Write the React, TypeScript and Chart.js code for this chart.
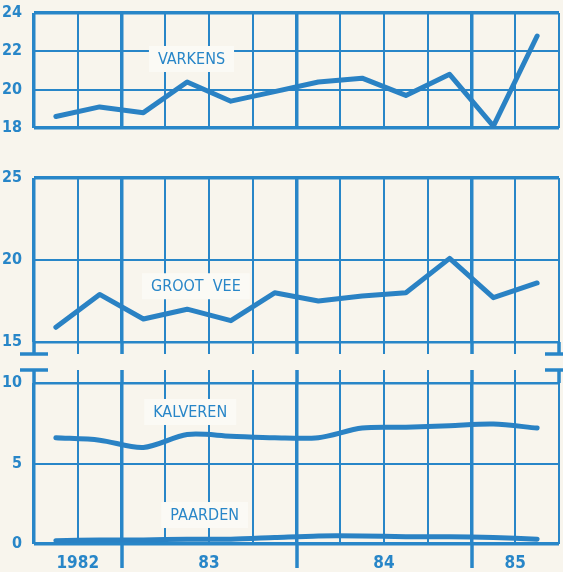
import React, { useEffect, useRef } from 'react';
import { Chart, registerables } from 'chart.js';

Chart.register(...registerables);

// ---- data ----
const quarters = [
  '1982 III', '1982 IV',
  '1983 I', '1983 II', '1983 III', '1983 IV',
  '1984 I', '1984 II', '1984 III', '1984 IV',
  '1985 I', '1985 II',
];
const varkens = [18.6, 19.1, 18.8, 20.4, 19.4, 19.9, 20.4, 20.6, 19.7, 20.8, 18.1, 22.8];
const grootVee = [15.9, 17.9, 16.4, 17.0, 16.3, 18.0, 17.5, 17.8, 18.0, 20.1, 17.7, 18.6];
const kalveren = [6.6, 6.45, 6.0, 6.8, 6.7, 6.6, 6.6, 7.2, 7.25, 7.35, 7.45, 7.2];
const paarden = [0.2, 0.25, 0.25, 0.3, 0.3, 0.4, 0.5, 0.5, 0.45, 0.45, 0.4, 0.3];
const yearLabels = ['1982', '83', '84', '85'];
const varkensAxis = { min: 18, max: 24, step: 2 };
const grootVeeAxis = { min: 15, max: 25, step: 5 };
const onderAxis = { min: 0, max: 10, step: 5 };

// ---- style ----
const BLUE = '#2886c8';
const LINE_BLUE = '#2a82c4';
const BG = '#f8f5ed';
const LABEL_BG = '#fbfaf5';
const FONT = "'Liberation Sans Narrow', 'DejaVu Sans Condensed', 'Roboto Condensed', 'Liberation Sans', sans-serif";
const THICK = 3.5;
const THIN = 2;

const yearOf = (q: string) => q.split(' ')[0];
const isYearStart = (i: number) =>
  i > 0 && i < quarters.length && yearOf(quarters[i]) !== yearOf(quarters[i - 1]);
const years = Array.from(new Set(quarters.map(yearOf)));
const yearCenters = years.map((y) => {
  const idx = quarters.map((q, i) => (yearOf(q) === y ? i : -1)).filter((i) => i >= 0);
  return idx.reduce((a, b) => a + b, 0) / idx.length;
});
const xGridWidth = (i: number) =>
  i === 0 || i === quarters.length || isYearStart(i) ? THICK : THIN;

type Label = { text: string; x: number; y: number };
type Deco = {
  labels: Label[];
  extendDown?: number;
  extendUp?: number;
  yearTicks?: number;
};

function decoPlugin(opts: Deco) {
  return {
    id: 'deco',
    beforeDatasetsDraw(chart: any) {
      const ctx = chart.ctx as CanvasRenderingContext2D;
      const x = chart.scales.x;
      const y = chart.scales.y;
      const a = chart.chartArea;
      const line = (x1: number, y1: number, x2: number, y2: number) => {
        ctx.beginPath();
        ctx.moveTo(x1, y1);
        ctx.lineTo(x2, y2);
        ctx.stroke();
      };
      ctx.save();
      ctx.strokeStyle = BLUE;
      ctx.lineCap = 'butt';
      for (let i = 0; i <= quarters.length; i++) {
        const px = Math.round(x.getPixelForValue(i - 0.5));
        ctx.lineWidth = xGridWidth(i);
        if (opts.extendDown) line(px, a.bottom, px, a.bottom + opts.extendDown);
        if (opts.extendUp) line(px, a.top - opts.extendUp, px, a.top);
        if (opts.yearTicks && isYearStart(i)) line(px, a.bottom, px, a.bottom + opts.yearTicks);
      }
      ctx.lineWidth = THICK;
      if (opts.extendDown) {
        const yy = a.bottom + opts.extendDown;
        line(a.left - 14, yy, a.left + 14, yy);
        line(a.right - 14, yy, a.right + 6, yy);
      }
      if (opts.extendUp) {
        const yy = a.top - opts.extendUp;
        line(a.left - 14, yy, a.left + 14, yy);
        line(a.right - 14, yy, a.right + 6, yy);
      }
      ctx.font = `16px ${FONT}`;
      ctx.textAlign = 'center';
      ctx.textBaseline = 'middle';
      for (const l of opts.labels) {
        const cx = x.getPixelForValue(l.x);
        const cy = y.getPixelForValue(l.y);
        const w = ctx.measureText(l.text).width;
        ctx.fillStyle = LABEL_BG;
        ctx.fillRect(cx - w / 2 - 9, cy - 13, w + 18, 26);
        ctx.fillStyle = BLUE;
        ctx.fillText(l.text, cx, cy + 1);
      }
      ctx.restore();
    },
  };
}

type PanelProps = {
  top: number;
  height: number;
  series: { data: number[]; tension: number }[];
  axis: { min: number; max: number; step: number };
  padTop: number;
  padBottom: number;
  thinEdges: number[];
  showYears?: boolean;
  deco: Deco;
};

function Panel(p: PanelProps) {
  const ref = useRef<HTMLCanvasElement | null>(null);
  useEffect(() => {
    if (!ref.current) return;
    const scales: any = {
      x: {
        type: 'category',
        offset: true,
        grid: {
          offset: true,
          drawTicks: false,
          color: BLUE,
          lineWidth: (c: any) => xGridWidth(c.index),
        },
        border: { display: false },
        ticks: { display: false },
        afterFit: (s: any) => {
          s.height = 0;
          s.paddingLeft = 0;
          s.paddingRight = 0;
        },
      },
      y: {
        type: 'linear',
        min: p.axis.min,
        max: p.axis.max,
        grid: {
          drawTicks: false,
          color: BLUE,
          lineWidth: (c: any) => {
            const v = c.tick ? c.tick.value : null;
            if (v === p.axis.min || v === p.axis.max) {
              return p.thinEdges.includes(v) ? 2.5 : THICK;
            }
            return THIN;
          },
        },
        border: { display: false },
        ticks: {
          stepSize: p.axis.step,
          padding: 12,
          color: BLUE,
          font: { family: FONT, size: 16, weight: 'bold' },
        },
        afterFit: (s: any) => {
          s.width = 34;
          s.paddingTop = 0;
          s.paddingBottom = 0;
        },
      },
    };
    if (p.showYears) {
      scales.years = {
        type: 'linear',
        position: 'bottom',
        min: -0.5,
        max: quarters.length - 0.5,
        grid: { display: false, drawTicks: false },
        border: { display: false },
        afterBuildTicks: (s: any) => {
          s.ticks = yearCenters.map((v) => ({ value: v }));
        },
        ticks: {
          autoSkip: false,
          maxRotation: 0,
          padding: 9,
          color: BLUE,
          font: { family: FONT, size: 17, weight: 'bold' },
          callback: (_v: any, i: number) => yearLabels[i],
        },
        afterFit: (s: any) => {
          s.height = 28;
          s.paddingLeft = 0;
          s.paddingRight = 0;
        },
      };
    }
    const chart = new Chart(ref.current, {
      type: 'line',
      data: {
        labels: quarters,
        datasets: p.series.map((s) => ({
          data: s.data,
          borderColor: LINE_BLUE,
          borderWidth: 5,
          tension: s.tension,
          pointRadius: 0,
          borderCapStyle: 'round',
          borderJoinStyle: 'round',
          fill: false,
          xAxisID: 'x',
          yAxisID: 'y',
        })),
      },
      options: {
        animation: false,
        responsive: false,
        maintainAspectRatio: false,
        events: [],
        layout: { padding: { top: p.padTop, bottom: p.padBottom, left: 0, right: 4 } },
        plugins: { legend: { display: false }, tooltip: { enabled: false } },
        scales,
      } as any,
      plugins: [decoPlugin(p.deco) as any],
    });
    return () => chart.destroy();
  }, []);
  return (
    <canvas
      ref={ref}
      width={563}
      height={p.height}
      style={{ position: 'absolute', left: 0, top: p.top, width: 563, height: p.height, display: 'block' }}
    />
  );
}

export default function App() {
  return (
    <div
      style={{
        position: 'fixed',
        left: 0,
        top: 0,
        width: 563,
        height: 572,
        background: BG,
        overflow: 'hidden',
      }}
    >
      <Panel
        top={0}
        height={140}
        series={[{ data: varkens, tension: 0 }]}
        axis={varkensAxis}
        padTop={13}
        padBottom={12}
        thinEdges={[]}
        deco={{ labels: [{ text: 'VARKENS', x: 3.1, y: 21.6 }] }}
      />
      <Panel
        top={160}
        height={200}
        series={[{ data: grootVee, tension: 0 }]}
        axis={grootVeeAxis}
        padTop={18}
        padBottom={18}
        thinEdges={[15]}
        deco={{ labels: [{ text: 'GROOT  VEE', x: 3.2, y: 18.4 }], extendDown: 12 }}
      />
      <Panel
        top={360}
        height={212}
        series={[
          { data: kalveren, tension: 0.3 },
          { data: paarden, tension: 0.3 },
        ]}
        axis={onderAxis}
        padTop={23}
        padBottom={0}
        thinEdges={[10]}
        showYears
        deco={{
          labels: [
            { text: 'KALVEREN', x: 3.07, y: 8.2 },
            { text: 'PAARDEN', x: 3.4, y: 1.8 },
          ],
          extendUp: 13,
          yearTicks: 24,
        }}
      />
    </div>
  );
}
